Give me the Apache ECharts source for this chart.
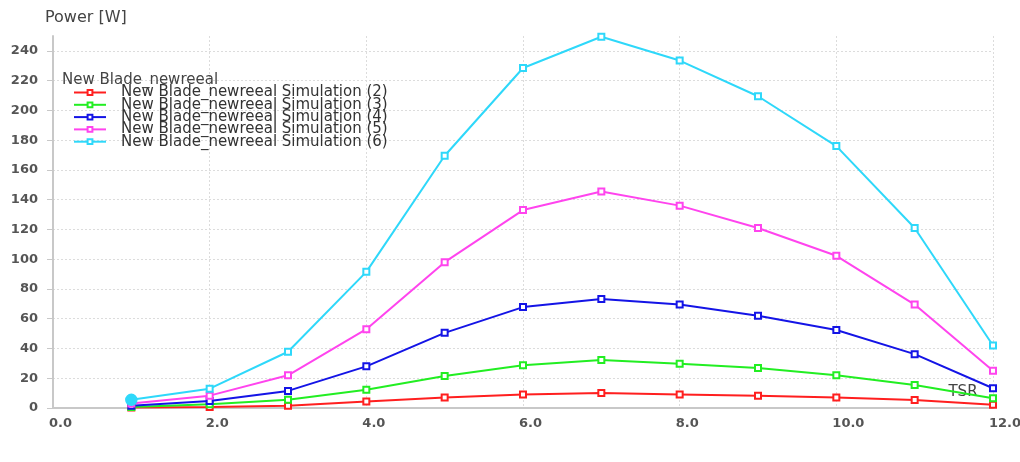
<!DOCTYPE html>
<html>
<head>
<meta charset="utf-8">
<script src="https://cdn.jsdelivr.net/npm/echarts@6/dist/echarts.min.js"></script>
<style>
html,body{margin:0;padding:0;background:#fff;}
#c{width:1020px;height:462px;}
</style>
</head>
<body>
<div id="c"></div>
<script>
// TSR values (x)
const tsr = [1, 2, 3, 4, 5, 6, 7, 8, 9, 10, 11, 12];
// Power [W] for each simulation
const sim2 = [0.3, 0.6, 1.5, 4.3, 7.1, 9.1, 10.0, 9.1, 8.2, 7.1, 5.3, 2.2];
const sim3 = [0.6, 2.5, 5.6, 12.3, 21.5, 28.7, 32.2, 29.8, 26.9, 22.0, 15.5, 6.5];
const sim4 = [1.5, 4.7, 11.5, 28.0, 50.5, 67.8, 73.3, 69.5, 62.0, 52.4, 36.2, 13.3];
const sim5 = [3.0, 8.3, 22.0, 53.0, 98.0, 133.0, 145.5, 136.0, 121.0, 102.3, 69.5, 25.0];
const sim6 = [5.5, 13.0, 37.8, 91.5, 169.5, 228.5, 249.5, 233.5, 209.5, 176.0, 121.0, 42.0];
const seriesNames = [
  'New Blade_newreeal Simulation (2)',
  'New Blade_newreeal Simulation (3)',
  'New Blade_newreeal Simulation (4)',
  'New Blade_newreeal Simulation (5)',
  'New Blade_newreeal Simulation (6)'
];
const legendTitle = 'New Blade_newreeal';
const yTicks = [0, 20, 40, 60, 80, 100, 120, 140, 160, 180, 200, 220, 240];
const xTicks = [0, 2, 4, 6, 8, 10, 12];

const colors = ['#ff1f1f', '#22ee22', '#1414e6', '#ff44ee', '#2ed8fa'];
const allValues = [sim2, sim3, sim4, sim5, sim6];

const FONT = 'DejaVu Sans';
const chart = echarts.init(document.getElementById('c'), null, {renderer: 'canvas'});

const series = allValues.map((vals, si) => ({
  name: seriesNames[si],
  type: 'line',
  data: vals.map((v, i) => {
    if (si === 4 && i === 0) {
      return {value: [tsr[i], v], symbol: 'circle', symbolSize: 11, itemStyle: {color: colors[si], borderColor: colors[si]}};
    }
    return [tsr[i], v];
  }),
  symbol: 'emptyRect',
  symbolSize: 6,
  showAllSymbol: true,
  clip: false,
  lineStyle: {width: 2, color: colors[si]},
  itemStyle: {color: colors[si], borderWidth: 1.5},
  emphasis: {disabled: true},
  animation: false,
  z: 2 + si
}));

const splitColors = yTicks.map(() => '#dcdcdc').concat(['rgba(0,0,0,0)']);

chart.setOption({
  animation: false,
  backgroundColor: '#ffffff',
  color: colors,
  textStyle: {fontFamily: FONT},
  title: {
    text: legendTitle,
    left: 62,
    top: 73,
    textStyle: {fontFamily: FONT, fontSize: 15, fontWeight: 'normal', color: '#444'},
    padding: 0
  },
  legend: {
    orient: 'vertical',
    left: 73,
    top: 85,
    padding: 0,
    itemWidth: 32,
    itemHeight: 6,
    itemGap: -2.7,
    data: seriesNames,
    textStyle: {fontFamily: FONT, fontSize: 15, color: '#333', padding: [0, 0, 0, 10]},
    selectedMode: false
  },
  grid: {left: 53, right: 27, top: 36, bottom: 54, containLabel: false, outerBoundsMode: 'none'},
  xAxis: {
    type: 'value',
    min: xTicks[0],
    max: xTicks[xTicks.length - 1],
    interval: 2,
    name: 'TSR',
    nameLocation: 'end',
    nameGap: -30,
    nameTextStyle: {fontFamily: FONT, fontSize: 15, color: '#444', align: 'center', verticalAlign: 'bottom', padding: [0, 0, 8, 0]},
    axisLine: {show: true, lineStyle: {color: '#c8c8c8', width: 2}},
    axisTick: {show: false},
    axisLabel: {
      fontFamily: FONT, fontSize: 13, fontWeight: 'bold', color: '#555', margin: 9, align: 'left',
      padding: [0, 0, 0, -4],
      formatter: v => v.toFixed(1)
    },
    splitLine: {show: true, lineStyle: {color: '#dcdcdc', type: [2, 2], width: 1}}
  },
  yAxis: {
    type: 'value',
    min: yTicks[0],
    max: 250,
    interval: 20,
    name: 'Power [W]',
    nameLocation: 'end',
    nameGap: 10,
    nameTextStyle: {fontFamily: FONT, fontSize: 16, color: '#444', align: 'left', padding: [0, 0, 0, -8]},
    axisLine: {show: true, lineStyle: {color: '#c8c8c8', width: 2}},
    axisTick: {show: true, length: 6, customValues: yTicks, lineStyle: {color: '#c8c8c8', width: 1}},
    axisLabel: {
      fontFamily: FONT, fontSize: 13, fontWeight: 'bold', color: '#555', margin: 15,
      customValues: yTicks
    },
    splitLine: {show: true, lineStyle: {color: splitColors, type: [2, 2], width: 1}}
  },
  series: series
});
</script>
</body>
</html>
